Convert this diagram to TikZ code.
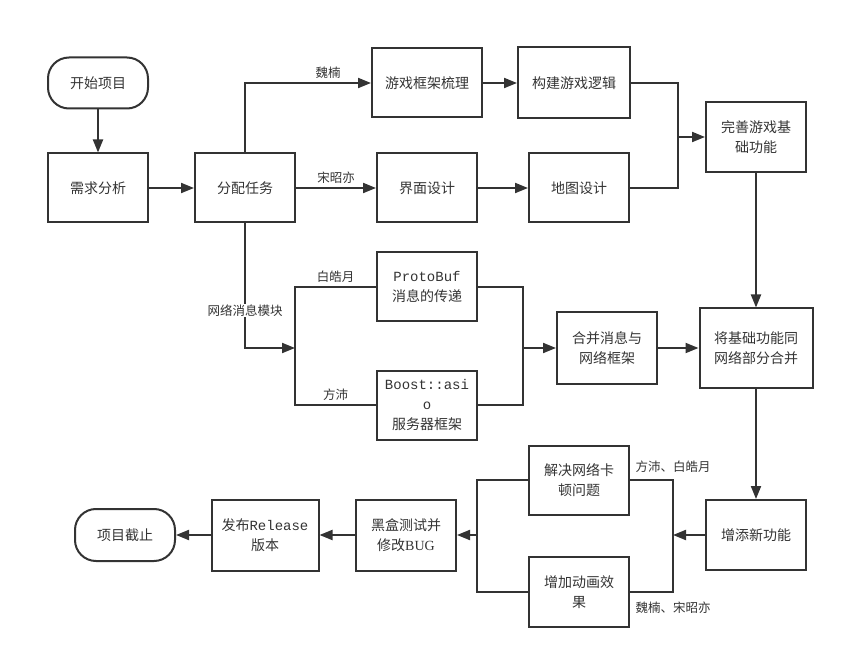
\documentclass[tikz,border=0pt]{standalone}
\usepackage{fontspec}
\setmainfont{Noto Sans CJK SC}
\newfontfamily\monofont{Liberation Mono}
\newfontfamily\seriffont{Liberation Serif}
\usetikzlibrary{arrows.meta}
\definecolor{ink}{HTML}{333333}

\begin{document}
\begin{tikzpicture}[x=1pt, y=-1pt, line width=2pt, draw=ink, every node/.style={font=\fontsize{14}{20}\selectfont, text=ink}, >={Triangle[length=13pt, width=10pt]}, blk/.style={draw, minimum width=100pt, minimum height=69pt, align=center, inner sep=2pt}, term/.style={blk, rounded corners=21pt, minimum height=51pt}, tag/.style={font=\fontsize{12.5}{14}\selectfont}]
	\useasboundingbox (0,0) rectangle (844,663);
	\node[term] (start) at (98,83) {开始项目};
	\node[blk] (need) at (98,188) {需求分析};
	\node[blk] (assign) at (245,188) {分配任务};
	\node[blk, minimum width=110pt] (frame) at (427,83) {游戏框架梳理};
	\node[blk, minimum width=112pt, minimum height=71pt] (logic) at (574,83) {构建游戏逻辑};
	\node[blk] (ui) at (427,188) {界面设计};
	\node[blk] (map) at (579,188) {地图设计};
	\node[blk, minimum height=70pt] (basic) at (756,137) {完善游戏基\\础功能};
	\node[blk] (proto) at (427,287) {{\monofont ProtoBuf}\\消息的传递};
	\node[blk] (boost) at (427,405) {{\monofont Boost::asi}\\{\monofont o}\\服务器框架};
	\node[blk, minimum height=71pt] (mergenet) at (607,348) {合并消息与\\网络框架};
	\node[blk, minimum width=113pt, minimum height=79pt] (mergeall) at (756,348) {将基础功能同\\网络部分合并};
	\node[blk, minimum height=70pt] (newfeat) at (756,535) {增添新功能};
	\node[blk] (lag) at (579,480) {解决网络卡\\顿问题};
	\node[blk, minimum height=70pt] (anim) at (579,592) {增加动画效\\果};
	\node[blk, minimum height=71pt] (test) at (406,535) {黑盒测试并\\修改{\seriffont BUG}};
	\node[blk, minimum width=107pt, minimum height=71pt] (release) at (265,535) {发布{\monofont Release}\\版本};
	\node[term, minimum height=52pt] (stop) at (125,535) {项目截止};
	\coordinate (j1) at (678,137);
	\coordinate (j2) at (295,348);
	\coordinate (j3) at (523,348);
	\coordinate (j4) at (673,535);
	\coordinate (j5) at (477,535);
	% top branch
	\draw[->] (start) -- (need);
	\draw[->] (need) -- (assign);
	\draw[->] (assign) |- (frame) node[pos=0.83, above, tag] {魏楠};
	\draw[->] (assign) -- (ui) node[midway, above, tag] {宋昭亦};
	\draw[->] (frame) -- (logic);
	\draw[->] (ui) -- (map);
	\draw (logic) -| (j1) |- (map);
	\draw[->] (j1) -- (basic);
	\draw[->] (basic) -- (mergeall);
	% network branch
	\draw[->] (assign) |- (j2) node[pos=0.35, fill=white, inner sep=1pt, tag] {网络消息模块};
	\draw (proto) -| (j2) node[pos=0.25, above, tag] {白皓月};
	\draw (boost) -| (j2) node[pos=0.25, above, tag] {方沛};
	\draw (proto) -| (j3);
	\draw (boost) -| (j3);
	\draw[->] (j3) -- (mergenet);
	\draw[->] (mergenet) -- (mergeall);
	% bottom row
	\draw[->] (mergeall) -- (newfeat);
	\draw[->] (newfeat) -- (j4);
	\draw (lag) -| (j4) node[pos=0.5, above=3pt, tag] {方沛、白皓月};
	\draw (anim) -| (j4) node[pos=0.5, below=6pt, tag] {魏楠、宋昭亦};
	\draw (lag) -| (j5);
	\draw (anim) -| (j5);
	\draw[->] (j5) -- (test);
	\draw[->] (test) -- (release);
	\draw[->] (release) -- (stop);
\end{tikzpicture}
\end{document}
